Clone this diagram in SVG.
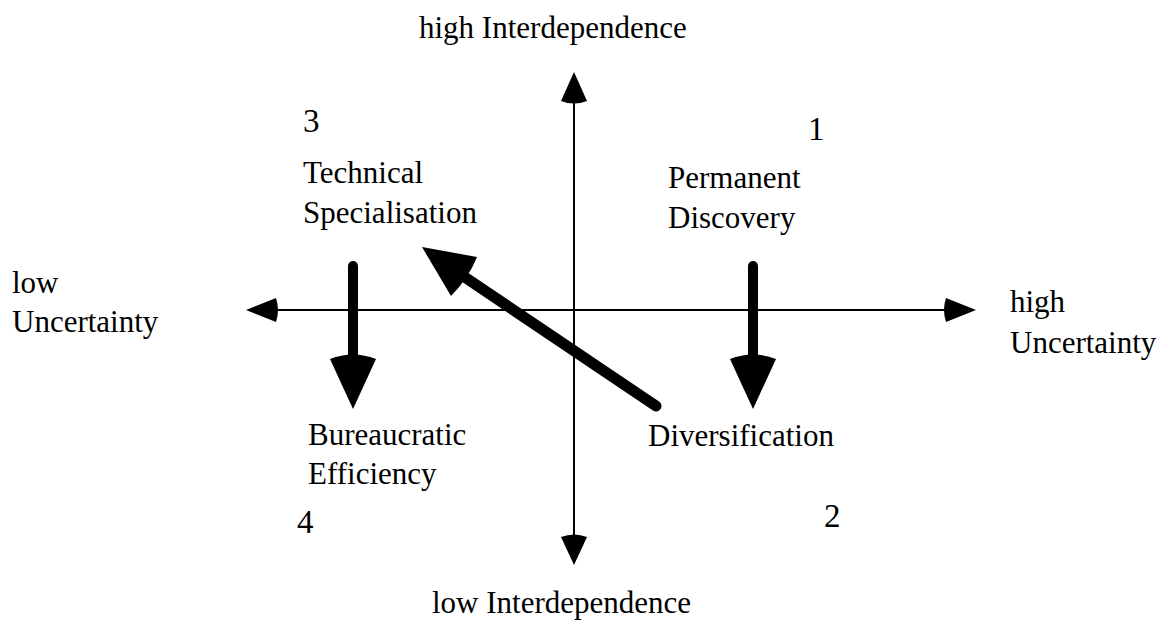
<svg xmlns="http://www.w3.org/2000/svg" width="1158" height="622" viewBox="0 0 1158 622">
<style>
text{font-family:"Liberation Serif","Times New Roman",serif;fill:#000}
.lbl{font-size:31px}
.num{font-size:33px}
.axis{stroke:#000;stroke-width:2;fill:none}
.thick{stroke:#000;stroke-width:10;stroke-linecap:round;fill:none}
.head{fill:#000;stroke:none}
</style>
<rect width="1158" height="622" fill="#fff"/>
<g id="connectors">
<g id="axis-vertical">
<line class="axis" x1="574" y1="98" x2="574" y2="540"/>
<path class="head" d="M574,72 L587,101 Q574,106 561,101 Z"/>
<path class="head" d="M574,565 L587,537 Q574,532 561,537 Z"/>
</g>
<g id="axis-horizontal">
<line class="axis" x1="272" y1="310" x2="950" y2="310"/>
<path class="head" d="M246,310 L276,298 Q280,310 276,322 Z"/>
<path class="head" d="M976,310 L946,298 Q942,310 946,322 Z"/>
</g>
<g id="arrow-tech-to-bureau">
<line class="thick" x1="353" y1="266" x2="353" y2="360"/>
<path class="head" d="M353,409 L376,359 Q353,350 330,359 Z"/>
</g>
<g id="arrow-perm-to-div">
<line class="thick" x1="753" y1="266" x2="753" y2="360"/>
<path class="head" d="M753,409 L776,359 Q753,350 730,359 Z"/>
</g>
<g id="arrow-div-to-tech">
<line class="thick" x1="656" y1="406" x2="466" y2="278" style="stroke-width:11"/>
<path class="head" d="M422,247 L477,257 Q468,279 451,296 Z"/>
</g>
</g>
<g id="label-top"><text class="lbl" x="419" y="38">high Interdependence</text></g>
<g id="label-bottom"><text class="lbl" x="432" y="613">low Interdependence</text></g>
<g id="label-left"><text class="lbl" x="12" y="293">low</text><text class="lbl" x="12" y="332">Uncertainty</text></g>
<g id="label-right"><text class="lbl" x="1010" y="312">high</text><text class="lbl" x="1010" y="353">Uncertainty</text></g>
<g id="quadrant-3"><text class="num" x="303" y="132">3</text><text class="lbl" x="303" y="183">Technical</text><text class="lbl" x="303" y="223">Specialisation</text></g>
<g id="quadrant-1"><text class="num" x="808" y="140">1</text><text class="lbl" x="668" y="188">Permanent</text><text class="lbl" x="668" y="228">Discovery</text></g>
<g id="quadrant-4"><text class="lbl" x="308" y="445">Bureaucratic</text><text class="lbl" x="308" y="484">Efficiency</text><text class="num" x="297" y="533">4</text></g>
<g id="quadrant-2"><text class="lbl" x="648" y="446">Diversification</text><text class="num" x="824" y="527">2</text></g>
</svg>
